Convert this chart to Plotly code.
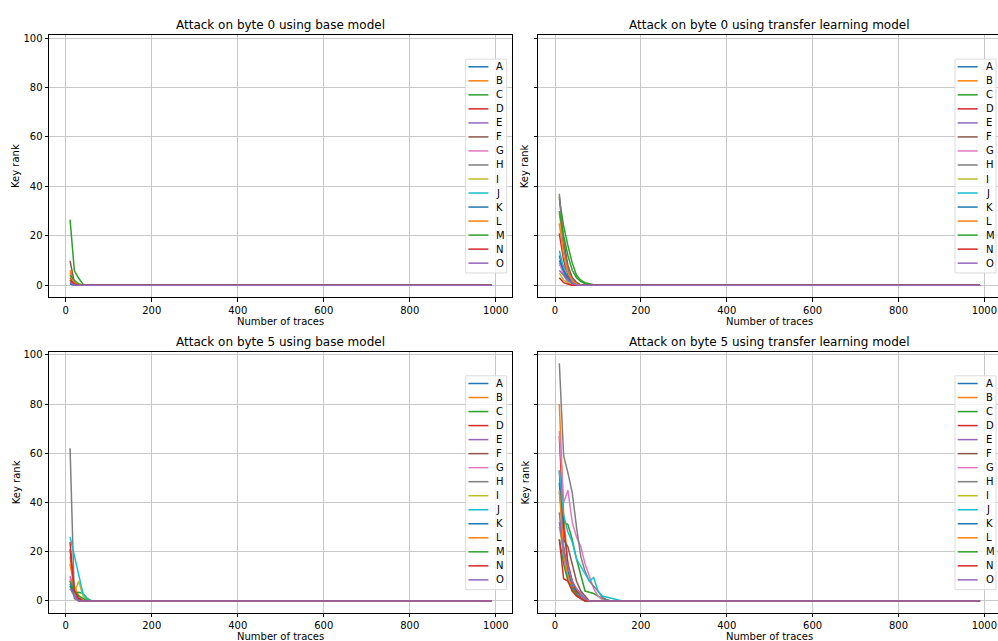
import plotly.graph_objects as go

W, H = 998, 641
LABELS = list("ABCDEFGHIJKLMNO")
COLORS = ["#1f77b4", "#ff7f0e", "#2ca02c", "#d62728", "#9467bd", "#8c564b", "#e377c2",
          "#7f7f7f", "#bcbd22", "#17becf", "#1f77b4", "#ff7f0e", "#2ca02c", "#d62728", "#9467bd"]
TRACES = list(range(10, 1000, 10))  # number of traces: 10 .. 990
X_TICKS = [0, 200, 400, 600, 800, 1000]
Y_TICKS = [0, 20, 40, 60, 80, 100]

# Key rank at 10, 20, 30, ... traces (remaining points are 0)
BYTE0_BASE = {
    "A": [2, 0.5, 0], "B": [6, 1, 0], "C": [26.5, 5.8, 2.8, 0.4, 0], "D": [3, 0.5, 0],
    "E": [1, 0], "F": [9.8, 1, 0], "G": [2, 0], "H": [1, 0], "I": [4, 1, 0],
    "J": [1.5, 0], "K": [0.5, 0], "L": [5, 1, 0.5, 0], "M": [4, 2, 0.5, 0],
    "N": [2, 0.5, 0], "O": [1, 0],
}
BYTE0_TRANSFER = {
    "A": [12, 5, 2, 0.5, 0], "B": [29, 16, 7, 3, 1, 0], "C": [35, 24, 16, 9, 4, 2, 1, 0.5, 0.2, 0],
    "D": [21, 10, 4, 1, 0], "E": [8, 8, 5, 3, 1, 0], "F": [36, 18, 8, 3, 1, 0],
    "G": [9, 4, 1, 0], "H": [37, 15, 6, 2, 0.5, 0], "I": [5, 2, 1, 0],
    "J": [14, 7, 3, 1, 0], "K": [10, 6, 3, 1, 0], "L": [25, 12, 5, 2, 0.5, 0],
    "M": [30, 20, 12, 6, 3, 1.5, 0.5, 0], "N": [3, 1, 0.5, 0], "O": [6, 4, 2, 1, 0],
}
BYTE5_BASE = {
    "A": [6, 2, 0], "B": [18, 6, 2, 0], "C": [6, 3, 3.5, 3, 1, 0], "D": [24, 2, 0.5, 0],
    "E": [10, 4, 1, 0], "F": [8, 3, 1, 0], "G": [9, 3, 1, 0], "H": [62, 1, 0],
    "I": [5, 3, 8, 2, 0], "J": [26, 18, 10, 3, 0.5, 0], "K": [7, 2, 0.5, 0],
    "L": [15, 5, 1, 0], "M": [8, 4, 2, 1, 0], "N": [21, 4, 1, 0], "O": [5, 2, 0],
}
BYTE5_TRANSFER = {
    "A": [53, 20, 10, 6, 3, 1, 0], "B": [80, 35, 15, 8, 4, 2, 1, 0],
    "C": [44, 32, 31, 25, 17, 10, 4, 3.5, 3, 2, 1, 0.5, 0],
    "D": [67, 30, 15, 8, 4, 2, 1, 0], "E": [36, 18, 10, 4, 3, 2, 1, 0],
    "F": [30, 25, 22, 15, 8, 4, 2, 0], "G": [69, 40, 45, 32, 26, 22, 15, 10, 5, 2, 0.5, 0],
    "H": [96.6, 59, 52, 44, 30, 18, 12, 8, 6, 4, 1.5, 0.5, 0], "I": [30, 20, 10, 5, 2, 1, 0],
    "J": [53, 35, 28, 24, 17, 14, 11, 8, 9.5, 4, 2, 1.5, 1, 0.5, 0.3, 0],
    "K": [48, 22, 12, 6, 3, 1, 0], "L": [45, 20, 10, 5, 2, 1, 0],
    "M": [25, 15, 8, 5, 3, 1, 0], "N": [25, 9, 8, 4, 2, 1, 0], "O": [32, 20, 14, 8, 5, 3, 1, 0],
}
TITLES = ["Attack on byte 0 using base model", "Attack on byte 0 using transfer learning model",
          "Attack on byte 5 using base model", "Attack on byte 5 using transfer learning model"]
PANELS = [BYTE0_BASE, BYTE0_TRANSFER, BYTE5_BASE, BYTE5_TRANSFER]


def full(vals):
    return list(vals) + [0] * (len(TRACES) - len(vals))


def px(x):
    return x / W


def py(y):
    return 1 - y / H


FONT = "DejaVu Sans"
GRID = "#c8c8c8"
# pixel geometry of the four axes boxes: (left, right, top, bottom)
BOXES = [(49, 511.7, 33, 296), (538.3, 998, 33, 296),
         (49, 511.7, 350.7, 612.7), (538.3, 998, 350.7, 612.7)]
XRANGES = [[-39, 1037], [-39, 1031.8], [-39, 1037], [-39, 1031.8]]
YRANGE = [-4.83, 101.3]

fig = go.Figure()
shapes, annotations = [], []
for i, (panel, title, box) in enumerate(zip(PANELS, TITLES, BOXES)):
    n = "" if i == 0 else str(i + 1)
    l, r, t, b = box
    for lab, col in zip(LABELS, COLORS):
        fig.add_trace(go.Scatter(x=TRACES, y=full(panel[lab]), mode="lines", name=lab,
                                 line=dict(color=col, width=1.5), showlegend=False,
                                 xaxis="x" + n, yaxis="y" + n))
    right = i % 2 == 1
    fig.layout["xaxis" + n] = dict(
        domain=[px(l), px(r)], range=XRANGES[i], anchor="y" + n, tickvals=X_TICKS,
        showline=True, linecolor="black", linewidth=1, mirror=True, ticks="outside",
        ticklen=3.5, tickcolor="black", showgrid=True, gridcolor=GRID, gridwidth=1,
        zeroline=False, tickfont=dict(size=10, color="black", family=FONT))
    fig.layout["yaxis" + n] = dict(
        domain=[py(b), py(t)], range=YRANGE, anchor="x" + n, tickvals=Y_TICKS,
        showticklabels=not right, showline=True, linecolor="black", linewidth=1,
        mirror=False if right else True, ticks="outside", ticklen=3.5, tickcolor="black",
        showgrid=True, gridcolor=GRID, gridwidth=1, zeroline=False,
        tickfont=dict(size=10, color="black", family=FONT))
    # title and axis titles
    cx = (l + (1001 if right else r)) / 2
    annotations.append(dict(text=title, x=px(cx), y=py(t - 10), xref="paper", yref="paper",
                            showarrow=False, xanchor="center", yanchor="middle",
                            font=dict(size=12, color="black", family=FONT)))
    annotations.append(dict(text="Number of traces", x=px(cx), y=py(b + 24), xref="paper",
                            yref="paper", showarrow=False, xanchor="center", yanchor="middle",
                            font=dict(size=10, color="black", family=FONT)))
    annotations.append(dict(text="Key rank", x=px(l - (13 if right else 33)), y=py((t + b) / 2),
                            xref="paper", yref="paper", showarrow=False, textangle=-90,
                            xanchor="center", yanchor="middle",
                            font=dict(size=10, color="black", family=FONT)))
    # manual legend
    rr = (996 if right else 506.7)
    bl, bt = rr - 41, t + 24.3
    shapes.append(dict(type="rect", xref="paper", yref="paper", x0=px(bl), x1=px(rr),
                       y0=py(bt), y1=py(bt + 214.5), line=dict(color="#dcdcdc", width=1),
                       fillcolor="rgba(255,255,255,0.8)", layer="above"))
    for k, (lab, col) in enumerate(zip(LABELS, COLORS)):
        yy = bt + 7.7 + k * 14.07
        shapes.append(dict(type="line", xref="paper", yref="paper", x0=px(bl + 2.7),
                           x1=px(bl + 22.7), y0=py(yy), y1=py(yy),
                           line=dict(color=col, width=1.5), layer="above"))
        annotations.append(dict(text=lab, x=px(bl + 28.5), y=py(yy), xref="paper",
                                yref="paper", showarrow=False, xanchor="left",
                                yanchor="middle", font=dict(size=10, color="black",
                                                            family=FONT)))

fig.update_layout(width=W, height=H, margin=dict(l=0, r=0, t=0, b=0),
                  paper_bgcolor="white", plot_bgcolor="white", shapes=shapes,
                  annotations=annotations, showlegend=False,
                  font=dict(family=FONT, size=10, color="black"))
fig.write_html("out.html")
